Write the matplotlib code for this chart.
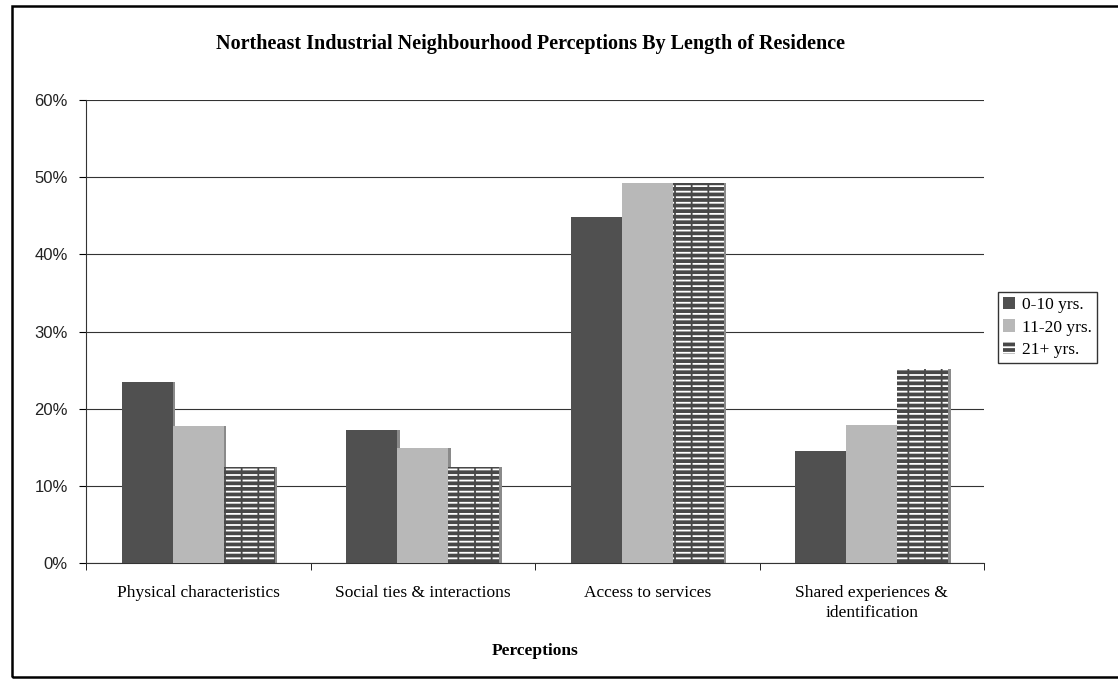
import numpy as np
import matplotlib.pyplot as plt
from matplotlib.patches import Rectangle

categories = ["Physical characteristics", "Social ties & interactions",
              "Access to services", "Shared experiences &\nidentification"]
series_names = ["0-10 yrs.", "11-20 yrs.", "21+ yrs."]
yrs_0_10 = [23.4, 17.2, 44.8, 14.5]
yrs_11_20 = [17.8, 14.9, 49.2, 17.9]
yrs_21_plus = [12.5, 12.4, 49.2, 25.2]

plt.rcParams['font.family'] = ['Liberation Serif', 'DejaVu Serif']
plt.rcParams['hatch.linewidth'] = 1.3

fig = plt.figure(figsize=(11.18, 6.79), dpi=100)
ax = fig.add_axes([86 / 1118, 1 - 563 / 679, 898 / 1118, 463 / 679])

x = np.arange(len(categories))
w = 0.227
faces = ['#505050', '#b8b8b8', '#484848']
data = [yrs_0_10, yrs_11_20, yrs_21_plus]
handles = []
for i, (vals, fc) in enumerate(zip(data, faces)):
    pos = x + (i - 1) * w
    # thin shadow on the right edge
    ax.bar(pos + 0.012, vals, w, color='#8a8a8a', zorder=2)
    if i == 2:
        b = ax.bar(pos, vals, w, color=fc, edgecolor='white', hatch='---',
                   linewidth=0, zorder=3)
        # break the white lines into dashes
        ax.bar(pos, vals, w, fill=False, edgecolor=fc, hatch='|',
               linewidth=0, zorder=4)
    else:
        b = ax.bar(pos, vals, w, color=fc, linewidth=0, zorder=3)
    handles.append(b)

ax.set_xlim(-0.5, 3.5)
ax.set_ylim(0, 60)
ax.set_yticks(range(0, 61, 10))
ax.set_yticklabels([f"{v}%" for v in range(0, 61, 10)], fontsize=12,
                   family=['Liberation Sans', 'DejaVu Sans'], color='#222222')
ax.yaxis.grid(True, color='#333333', linewidth=0.8, zorder=0)
ax.set_axisbelow(True)
ax.set_xticks(x)
ax.set_xticklabels(categories, fontsize=12.5, linespacing=1.3)
ax.tick_params(axis='x', length=0, pad=16)
ax.set_xticks(np.arange(-0.5, 4, 1), minor=True)
ax.tick_params(axis='x', which='minor', length=5, direction='out')
ax.tick_params(axis='y', length=5, direction='out', pad=8)
for s in ['top', 'right']:
    ax.spines[s].set_visible(False)
ax.spines['left'].set_color('#333333')
ax.spines['bottom'].set_color('#333333')

ax.set_xlabel("Perceptions", fontsize=12.5, fontweight='bold', labelpad=16)
fig.text(530 / 1118, 1 - 44 / 679,
         "Northeast Industrial Neighbourhood Perceptions By Length of Residence",
         ha='center', va='center', fontsize=14.5, fontweight='bold')

leg = fig.legend(handles, series_names, loc='upper left',
                 bbox_to_anchor=(998 / 1118, 1 - 292 / 679), fontsize=12.5,
                 frameon=True, fancybox=False, edgecolor='black',
                 handlelength=0.7, handleheight=0.7, handletextpad=0.4,
                 borderpad=0.3, labelspacing=0.35, borderaxespad=0)
leg.get_frame().set_linewidth(1.0)

fig.patches.append(Rectangle((12 / 1118, 2 / 679), 1200 / 1118, 671 / 679,
                             transform=fig.transFigure, fill=False,
                             edgecolor='black', linewidth=1.8))

fig.savefig("out.png", dpi=100)
